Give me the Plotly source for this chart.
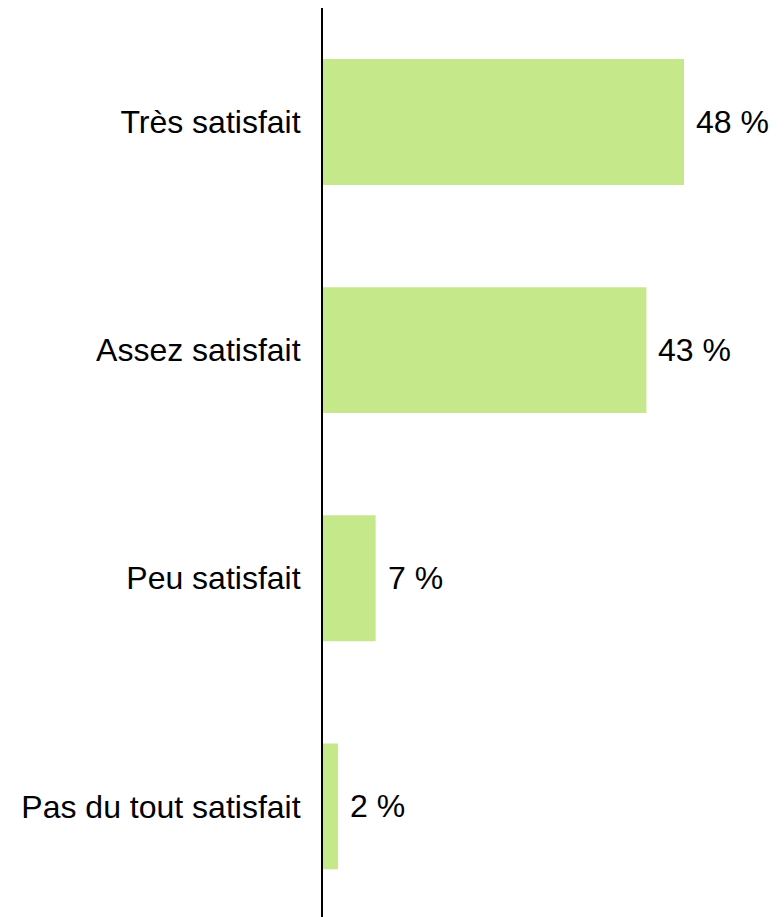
import plotly.graph_objects as go

# Satisfaction survey results (share of respondents, %)
categories = ["Très satisfait", "Assez satisfait", "Peu satisfait", "Pas du tout satisfait"]
values = [48, 43, 7, 2]
value_labels = [f"{v} %" for v in values]

BAR_COLOR = "#C5E88A"
FONT = "Liberation Sans, Arial, sans-serif"

fig = go.Figure(
    go.Bar(
        y=categories,
        x=values,
        orientation="h",
        width=0.552,
        marker=dict(color=BAR_COLOR, line=dict(width=0)),
        hoverinfo="skip",
    )
)

# value labels placed just right of each bar
for cat, v, lab in zip(categories, values, value_labels):
    fig.add_annotation(
        x=v, y=cat, text=lab, showarrow=False,
        xanchor="left", yanchor="middle", xshift=10,
        font=dict(family=FONT, size=32, color="#000000"),
    )

fig.update_layout(
    width=784,
    height=917,
    margin=dict(l=323, r=0, t=8, b=0),
    paper_bgcolor="white",
    plot_bgcolor="white",
    showlegend=False,
    font=dict(family=FONT, size=32, color="#000000"),
    xaxis=dict(
        range=[0, 61.3],
        showgrid=False, zeroline=False, showline=False,
        showticklabels=False, ticks="",
    ),
    yaxis=dict(
        type="category",
        range=[3.485, -0.5],
        showgrid=False, zeroline=False,
        showline=True, linecolor="#000000", linewidth=2,
        ticks="", ticklabelstandoff=14,
        tickfont=dict(family=FONT, size=32, color="#000000"),
    ),
)

fig.write_html("out.html")
